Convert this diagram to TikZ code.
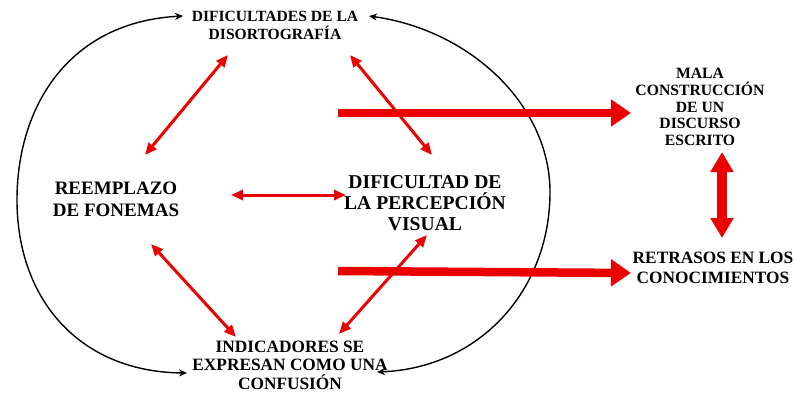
\documentclass[tikz,border=0pt]{standalone}
\usepackage{fontspec}
\setmainfont{Liberation Serif}
\usetikzlibrary{arrows.meta}
\definecolor{arrred}{RGB}{235,0,0}
\tikzset{
  lbl/.style={align=center, font=\bfseries, text=black, inner sep=0pt},
  thinred/.style={draw=arrred, line width=3pt, {Triangle[length=12pt,width=10pt]}-{Triangle[length=12pt,width=10pt]}},
  thickred/.style={draw=arrred, line width=8.5pt, -{Triangle[length=20pt,width=26pt]}},
  vertred/.style={draw=arrred, line width=10pt, {Triangle[length=20pt,width=22pt]}-{Triangle[length=20pt,width=22pt]}},
  blackarc/.style={draw=black, line width=1.4pt, {Stealth[length=8pt,width=7pt]}-{Stealth[length=8pt,width=7pt]}}
}
\begin{document}
\begin{tikzpicture}[x=1pt,y=-1pt]
\useasboundingbox (0,0) rectangle (794,393);
% text nodes
\node[lbl, font=\fontsize{15.6}{18}\selectfont\bfseries] (top) at (275,25) {DIFICULTADES DE LA\\DISORTOGRAFÍA};
\node[lbl, font=\fontsize{19}{22}\selectfont\bfseries] (reem) at (116,199) {REEMPLAZO\\DE FONEMAS};
\node[lbl, font=\fontsize{19.6}{21}\selectfont\bfseries] (perc) at (425,203) {DIFICULTAD DE\\LA PERCEPCIÓN\\VISUAL};
\node[lbl, font=\fontsize{17.3}{18.5}\selectfont\bfseries] (indi) at (290,365) {INDICADORES SE\\EXPRESAN COMO UNA\\CONFUSIÓN};
\node[lbl, font=\fontsize{15.7}{16.8}\selectfont\bfseries] (mala) at (700,107) {MALA\\CONSTRUCCIÓN\\DE UN\\DISCURSO\\ESCRITO};
\node[lbl, font=\fontsize{17.3}{19.5}\selectfont\bfseries] (retr) at (713,268) {RETRASOS EN LOS\\CONOCIMIENTOS};
% arrow end points
\coordinate (a1s) at (228,55);  \coordinate (a1e) at (145,155);
\coordinate (a2s) at (350,55);  \coordinate (a2e) at (432,155);
\coordinate (a3s) at (231,195); \coordinate (a3e) at (346,195);
\coordinate (a4s) at (151,244); \coordinate (a4e) at (236,337);
\coordinate (a5s) at (427,235); \coordinate (a5e) at (339,334);
\coordinate (t1s) at (338,113); \coordinate (t1e) at (631,113);
\coordinate (t2s) at (338,271); \coordinate (t2e) at (631,273);
\coordinate (vs) at (722,152);  \coordinate (ve) at (722,238);
\coordinate (lt) at (183,16);   \coordinate (lb) at (187,373);
\coordinate (rt) at (369,16);   \coordinate (rb) at (377,372);
% black oval arcs
\draw[blackarc] (lt) .. controls (70,22) and (17,105) .. (17,200) .. controls (17,300) and (80,372) .. (lb);
\draw[blackarc] (rt) .. controls (470,30) and (550,105) .. (550,192) .. controls (550,290) and (480,368) .. (rb);
% red arrows
\draw[thinred] (a1s) -- (a1e);
\draw[thinred] (a2s) -- (a2e);
\draw[thinred] (a3s) -- (a3e);
\draw[thinred] (a4s) -- (a4e);
\draw[thinred] (a5s) -- (a5e);
\draw[thickred] (t1s) -- (t1e);
\draw[thickred] (t2s) -- (t2e);
\draw[vertred] (vs) -- (ve);
\end{tikzpicture}
\end{document}
